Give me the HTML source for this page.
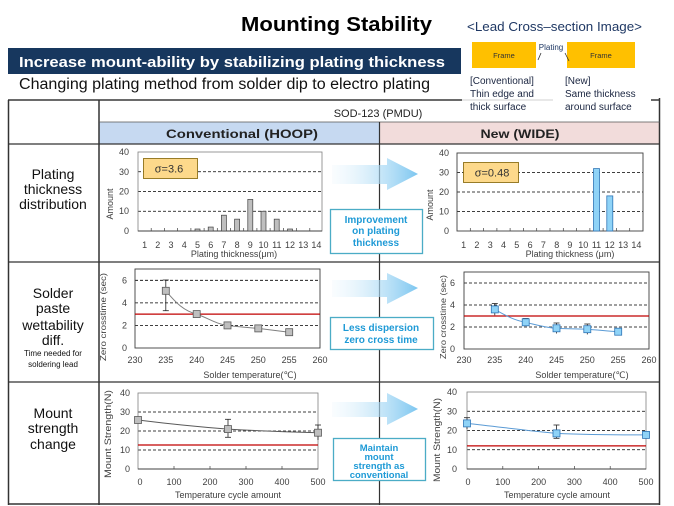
<!DOCTYPE html>
<html><head><meta charset="utf-8"><style>
html,body{margin:0;padding:0;background:#fff}
svg{display:block}
text{font-family:"Liberation Sans","DejaVu Sans",sans-serif}
</style></head><body>
<svg width="674" height="506" viewBox="0 0 674 506" xmlns="http://www.w3.org/2000/svg">
<defs>
<linearGradient id="ag" x1="332" x2="418" y1="0" y2="0" gradientUnits="userSpaceOnUse">
<stop offset="0" stop-color="#e4f3fc" stop-opacity="0.2"/>
<stop offset="1" stop-color="#7cc6f0"/>
</linearGradient>
</defs>

<!-- Title -->
<text x="241" y="31" font-size="20" font-weight="bold" fill="#000" textLength="191" lengthAdjust="spacingAndGlyphs">Mounting Stability</text>

<!-- Banner -->
<rect x="8" y="48" width="453" height="26" fill="#17375e"/>
<text x="19" y="67" font-size="15" font-weight="bold" fill="#fff" textLength="426" lengthAdjust="spacingAndGlyphs">Increase mount-ability by stabilizing  plating thickness</text>
<text x="19" y="89" font-size="15.5" fill="#111" textLength="411" lengthAdjust="spacingAndGlyphs">Changing plating method from solder dip to electro plating</text>

<!-- Lead cross-section image -->
<text x="467" y="31" font-size="13" fill="#1f3864" textLength="175" lengthAdjust="spacingAndGlyphs">&lt;Lead Cross‒section Image&gt;</text>
<rect x="472" y="42" width="64" height="26" fill="#ffc000"/>
<rect x="567" y="42" width="68" height="26" fill="#ffc000"/>
<text x="504" y="58" font-size="7.5" fill="#333" text-anchor="middle">Frame</text>
<text x="601" y="58" font-size="7.5" fill="#333" text-anchor="middle">Frame</text>
<text x="551" y="50" font-size="8" fill="#1f3864" text-anchor="middle">Plating</text>
<line x1="541" y1="53" x2="538" y2="60" stroke="#333" stroke-width="0.8"/>
<line x1="565" y1="53" x2="569" y2="61" stroke="#333" stroke-width="0.8"/>
<text x="470" y="84" font-size="10" fill="#1a2540">[Conventional]</text>
<text x="470" y="97" font-size="10" fill="#1a2540">Thin edge and</text>
<text x="470" y="110" font-size="10" fill="#1a2540">thick surface</text>
<text x="565" y="84" font-size="10" fill="#1a2540">[New]</text>
<text x="565" y="97" font-size="10" fill="#1a2540">Same thickness</text>
<text x="565" y="110" font-size="10" fill="#1a2540">around surface</text>

<!-- Table -->
<rect x="99" y="122" width="281" height="22" fill="#c6d9f1"/>
<rect x="380" y="122" width="280" height="22" fill="#f2dcdb"/>
<line x1="8" y1="100" x2="462" y2="100" stroke="#6a6a6a" stroke-width="2"/>
<line x1="462" y1="100" x2="553" y2="100" stroke="#d0d0d0" stroke-width="1"/>
<line x1="651" y1="100" x2="660" y2="100" stroke="#6a6a6a" stroke-width="2"/>
<line x1="8.5" y1="100" x2="8.5" y2="505" stroke="#333" stroke-width="1.5"/>
<line x1="659.5" y1="98" x2="659.5" y2="505" stroke="#333" stroke-width="1.5"/>
<line x1="99" y1="100" x2="99" y2="505" stroke="#333" stroke-width="1.5"/>
<line x1="99" y1="122" x2="660" y2="122" stroke="#555" stroke-width="0.8"/>
<line x1="8" y1="144" x2="660" y2="144" stroke="#333" stroke-width="1.2"/>
<line x1="379.5" y1="122" x2="379.5" y2="505" stroke="#333" stroke-width="1.2"/>
<line x1="8" y1="262" x2="660" y2="262" stroke="#333" stroke-width="1.2"/>
<line x1="8" y1="382" x2="660" y2="382" stroke="#333" stroke-width="1.2"/>
<line x1="8" y1="504" x2="660" y2="504" stroke="#333" stroke-width="1.5"/>

<text x="378" y="117" font-size="11" fill="#222" text-anchor="middle">SOD-123 (PMDU)</text>
<text x="242" y="138" font-size="12" font-weight="bold" fill="#222" text-anchor="middle" textLength="152" lengthAdjust="spacingAndGlyphs">Conventional (HOOP)</text>
<text x="520" y="138" font-size="12" font-weight="bold" fill="#222" text-anchor="middle" textLength="79" lengthAdjust="spacingAndGlyphs">New (WIDE)</text>

<!-- Row labels -->
<g font-size="14" fill="#111" text-anchor="middle">
<text x="53" y="179">Plating</text>
<text x="53" y="194">thickness</text>
<text x="53" y="209">distribution</text>
<text x="53" y="298">Solder</text>
<text x="53" y="313">paste</text>
<text x="53" y="330">wettability</text>
<text x="53" y="345">diff.</text>
<text x="53" y="418">Mount</text>
<text x="53" y="433">strength</text>
<text x="53" y="449">change</text>
</g>
<text x="53" y="356" font-size="8" fill="#111" text-anchor="middle">Time needed for</text>
<text x="53" y="367" font-size="8" fill="#111" text-anchor="middle">soldering lead</text>

<!-- Arrows -->
<path d="M332,165 H387 V158 L418,174 L387,190 V184 H332 Z" fill="url(#ag)"/>
<path d="M332,280 H387 V273 L418,288 L387,304 V297 H332 Z" fill="url(#ag)"/>
<path d="M332,402 H387 V393 L418,409 L387,425 V417 H332 Z" fill="url(#ag)"/>

<!-- Callouts -->
<rect x="330.5" y="209.5" width="92" height="44" fill="#fff" stroke="#4bacc6" stroke-width="1.3"/>
<g font-size="10" font-weight="bold" fill="#1e9ad6" text-anchor="middle">
<text x="376" y="223">Improvement</text>
<text x="376" y="234">on plating</text>
<text x="376" y="246">thickness</text>
</g>
<rect x="330.5" y="317.5" width="103" height="32" fill="#fff" stroke="#4bacc6" stroke-width="1.3"/>
<g font-size="10" font-weight="bold" fill="#1e9ad6" text-anchor="middle">
<text x="381" y="331">Less dispersion</text>
<text x="381" y="343">zero cross time</text>
</g>
<rect x="333.5" y="438.5" width="92" height="42" fill="#fff" stroke="#4bacc6" stroke-width="1.3"/>
<g font-size="9.5" font-weight="bold" fill="#1e9ad6" text-anchor="middle">
<text x="379" y="451">Maintain</text>
<text x="379" y="460">mount</text>
<text x="379" y="469">strength as</text>
<text x="379" y="478">conventional</text>
</g>

<!-- ===== Chart 1 left histogram ===== -->
<g stroke="#000" stroke-width="0.8" stroke-dasharray="3,2">
<line x1="138" y1="171.75" x2="322" y2="171.75"/>
<line x1="138" y1="191.5" x2="322" y2="191.5"/>
<line x1="138" y1="211.25" x2="322" y2="211.25"/>
</g>
<rect x="138" y="152" width="184" height="79" fill="none" stroke="#7f7f7f" stroke-width="0.8"/>
<g stroke="#404040" stroke-width="0.7">
<line x1="151.2" y1="231" x2="151.2" y2="228"/><line x1="164.4" y1="231" x2="164.4" y2="228"/>
<line x1="177.6" y1="231" x2="177.6" y2="228"/><line x1="190.9" y1="231" x2="190.9" y2="228"/>
<line x1="204.1" y1="231" x2="204.1" y2="228"/><line x1="217.3" y1="231" x2="217.3" y2="228"/>
<line x1="230.5" y1="231" x2="230.5" y2="228"/><line x1="243.7" y1="231" x2="243.7" y2="228"/>
<line x1="256.9" y1="231" x2="256.9" y2="228"/><line x1="270.1" y1="231" x2="270.1" y2="228"/>
<line x1="283.4" y1="231" x2="283.4" y2="228"/><line x1="296.6" y1="231" x2="296.6" y2="228"/>
<line x1="309.8" y1="231" x2="309.8" y2="228"/>
</g>
<line x1="138" y1="231" x2="322" y2="231" stroke="#404040" stroke-width="0.9"/>
<g fill="#bfbfbf" stroke="#404040" stroke-width="0.7">
<rect x="195" y="229" width="5" height="2"/>
<rect x="208.2" y="227.05" width="5" height="3.95"/>
<rect x="221.4" y="215.2" width="5" height="15.8"/>
<rect x="234.6" y="219.15" width="5" height="11.85"/>
<rect x="247.8" y="199.4" width="5" height="31.6"/>
<rect x="261" y="211.25" width="5" height="19.75"/>
<rect x="274.2" y="219.15" width="5" height="11.85"/>
<rect x="287.5" y="229" width="5" height="2"/>
</g>
<g font-size="9" fill="#404040" text-anchor="end">
<text x="129" y="155">40</text><text x="129" y="175">30</text><text x="129" y="194.5">20</text><text x="129" y="214">10</text><text x="129" y="234">0</text>
</g>
<g font-size="9" fill="#404040" text-anchor="middle">
<text x="144.6" y="248">1</text><text x="157.8" y="248">2</text><text x="171" y="248">3</text><text x="184.2" y="248">4</text>
<text x="197.5" y="248">5</text><text x="210.7" y="248">6</text><text x="223.9" y="248">7</text><text x="237.1" y="248">8</text>
<text x="250.3" y="248">9</text><text x="263.5" y="248">10</text><text x="276.8" y="248">11</text><text x="290" y="248">12</text>
<text x="303.2" y="248">13</text><text x="316.4" y="248">14</text>
<text x="234" y="257">Plating  thickness(μm)</text>
</g>
<text transform="translate(113,204) rotate(-90)" font-size="9" fill="#404040" text-anchor="middle">Amount</text>
<rect x="143.5" y="158.5" width="54" height="20" fill="#fdd98b" stroke="#7f6000" stroke-width="0.8"/>
<text x="169" y="172.5" font-size="11" fill="#333" text-anchor="middle">σ=3.6</text>

<!-- ===== Chart 1 right histogram ===== -->
<g stroke="#000" stroke-width="0.8" stroke-dasharray="3,2">
<line x1="457" y1="172.5" x2="643" y2="172.5"/>
<line x1="457" y1="192" x2="643" y2="192"/>
<line x1="457" y1="211.5" x2="643" y2="211.5"/>
</g>
<rect x="457" y="153" width="186" height="78" fill="none" stroke="#404040" stroke-width="0.9"/>
<g stroke="#404040" stroke-width="0.7">
<line x1="470.3" y1="231" x2="470.3" y2="228"/><line x1="483.6" y1="231" x2="483.6" y2="228"/>
<line x1="496.9" y1="231" x2="496.9" y2="228"/><line x1="510.1" y1="231" x2="510.1" y2="228"/>
<line x1="523.4" y1="231" x2="523.4" y2="228"/><line x1="536.7" y1="231" x2="536.7" y2="228"/>
<line x1="550" y1="231" x2="550" y2="228"/><line x1="563.3" y1="231" x2="563.3" y2="228"/>
<line x1="576.6" y1="231" x2="576.6" y2="228"/><line x1="589.9" y1="231" x2="589.9" y2="228"/>
<line x1="603.1" y1="231" x2="603.1" y2="228"/><line x1="616.4" y1="231" x2="616.4" y2="228"/>
<line x1="629.7" y1="231" x2="629.7" y2="228"/>
</g>
<g fill="#8fd3f7" stroke="#2e75b6" stroke-width="0.8">
<rect x="593.5" y="168.6" width="6" height="62.4"/>
<rect x="606.8" y="195.9" width="6" height="35.1"/>
</g>
<g font-size="9" fill="#404040" text-anchor="end">
<text x="449" y="156">40</text><text x="449" y="175.5">30</text><text x="449" y="195">20</text><text x="449" y="214.5">10</text><text x="449" y="234">0</text>
</g>
<g font-size="9" fill="#404040" text-anchor="middle">
<text x="463.6" y="248">1</text><text x="476.9" y="248">2</text><text x="490.2" y="248">3</text><text x="503.5" y="248">4</text>
<text x="516.8" y="248">5</text><text x="530.1" y="248">6</text><text x="543.4" y="248">7</text><text x="556.7" y="248">8</text>
<text x="569.9" y="248">9</text><text x="583.2" y="248">10</text><text x="596.5" y="248">11</text><text x="609.8" y="248">12</text>
<text x="623.1" y="248">13</text><text x="636.4" y="248">14</text>
<text x="570" y="257">Plating thickness (μm)</text>
</g>
<text transform="translate(433,205) rotate(-90)" font-size="9" fill="#404040" text-anchor="middle">Amount</text>
<rect x="463.5" y="162.5" width="55" height="20" fill="#fdd98b" stroke="#7f6000" stroke-width="0.8"/>
<text x="492" y="176.5" font-size="11" fill="#333" text-anchor="middle">σ=0.48</text>

<!-- ===== Chart 2 left (solder) ===== -->
<g stroke="#000" stroke-width="0.8" stroke-dasharray="3,2">
<line x1="135" y1="280.3" x2="320" y2="280.3"/>
<line x1="135" y1="302.9" x2="320" y2="302.9"/>
<line x1="135" y1="325.4" x2="320" y2="325.4"/>
</g>
<rect x="135" y="269" width="185" height="79" fill="none" stroke="#404040" stroke-width="0.9"/>
<line x1="135" y1="314.1" x2="320" y2="314.1" stroke="#c00000" stroke-width="1.3"/>
<path d="M165.8,290.8 C176,303 184,311 196.7,314.1 C208,318 216,324 227.5,325.4 C238,327 248,327.5 258.3,328.4 C268,329.5 279,331 289.2,332.2" fill="none" stroke="#7f7f7f" stroke-width="1"/>
<g stroke="#222" stroke-width="0.8">
<line x1="165.8" y1="280" x2="165.8" y2="310.7"/><line x1="162.8" y1="280" x2="168.8" y2="280"/><line x1="162.8" y1="310.7" x2="168.8" y2="310.7"/>
</g>
<g fill="#bfbfbf" stroke="#595959" stroke-width="0.8">
<rect x="162.3" y="287.3" width="7" height="7"/>
<rect x="193.2" y="310.6" width="7" height="7"/>
<rect x="224" y="321.9" width="7" height="7"/>
<rect x="254.8" y="324.9" width="7" height="7"/>
<rect x="285.7" y="328.7" width="7" height="7"/>
</g>
<g font-size="9" fill="#404040" text-anchor="end">
<text x="127" y="283.3">6</text><text x="127" y="305.9">4</text><text x="127" y="328.4">2</text><text x="127" y="351">0</text>
</g>
<g font-size="9" fill="#404040" text-anchor="middle">
<text x="135" y="363">230</text><text x="165.8" y="363">235</text><text x="196.7" y="363">240</text><text x="227.5" y="363">245</text>
<text x="258.3" y="363">250</text><text x="289.2" y="363">255</text><text x="320" y="363">260</text>
<text x="250" y="378">Solder temperature(℃)</text>
</g>
<text transform="translate(106,317) rotate(-90)" font-size="8.5" fill="#404040" text-anchor="middle" textLength="88" lengthAdjust="spacingAndGlyphs">Zero crosstime (sec)</text>

<!-- ===== Chart 2 right (solder) ===== -->
<g stroke="#000" stroke-width="0.8" stroke-dasharray="3,2">
<line x1="464" y1="283" x2="649" y2="283"/>
<line x1="464" y1="305" x2="649" y2="305"/>
<line x1="464" y1="327" x2="649" y2="327"/>
</g>
<rect x="464" y="272" width="185" height="77" fill="none" stroke="#404040" stroke-width="0.9"/>
<line x1="464" y1="316" x2="649" y2="316" stroke="#c00000" stroke-width="1.3"/>
<path d="M494.8,309.4 C505,315 513,320 525.7,322.3 C537,325 545,327.5 556.5,328.3 C567,329 577,328.8 587.3,329.2 C598,330 608,331 618.2,331.7" fill="none" stroke="#5b9bd5" stroke-width="1"/>
<g stroke="#222" stroke-width="0.8">
<line x1="494.8" y1="303.5" x2="494.8" y2="315.3"/><line x1="491.8" y1="303.5" x2="497.8" y2="303.5"/>
<line x1="525.7" y1="318.5" x2="525.7" y2="326"/><line x1="522.7" y1="318.5" x2="528.7" y2="318.5"/>
<line x1="556.5" y1="323" x2="556.5" y2="333.5"/><line x1="553.5" y1="323" x2="559.5" y2="323"/>
<line x1="587.3" y1="324" x2="587.3" y2="334.4"/><line x1="584.3" y1="324" x2="590.3" y2="324"/>
</g>
<g fill="#8fd3f7" stroke="#2e75b6" stroke-width="0.8">
<rect x="491.3" y="305.9" width="7" height="7"/>
<rect x="522.2" y="318.8" width="7" height="7"/>
<rect x="553" y="324.8" width="7" height="7"/>
<rect x="583.8" y="325.7" width="7" height="7"/>
<rect x="614.7" y="328.2" width="7" height="7"/>
</g>
<g font-size="9" fill="#404040" text-anchor="end">
<text x="455" y="286">6</text><text x="455" y="308">4</text><text x="455" y="330">2</text><text x="455" y="352">0</text>
</g>
<g font-size="9" fill="#404040" text-anchor="middle">
<text x="464" y="363">230</text><text x="494.8" y="363">235</text><text x="525.7" y="363">240</text><text x="556.5" y="363">245</text>
<text x="587.3" y="363">250</text><text x="618.2" y="363">255</text><text x="649" y="363">260</text>
<text x="582" y="378">Solder temperature(℃)</text>
</g>
<text transform="translate(446,317) rotate(-90)" font-size="8.5" fill="#404040" text-anchor="middle" textLength="84" lengthAdjust="spacingAndGlyphs">Zero crosstime (sec)</text>

<!-- ===== Chart 3 left (mount strength) ===== -->
<g stroke="#000" stroke-width="0.8" stroke-dasharray="3,2">
<line x1="138" y1="412" x2="318" y2="412"/>
<line x1="138" y1="431" x2="318" y2="431"/>
<line x1="138" y1="450" x2="318" y2="450"/>
</g>
<rect x="138" y="393" width="180" height="76" fill="none" stroke="#7f7f7f" stroke-width="0.8"/>
<line x1="138" y1="469" x2="318" y2="469" stroke="#404040" stroke-width="0.9"/>
<g stroke="#404040" stroke-width="0.7">
<line x1="174" y1="469" x2="174" y2="466"/><line x1="210" y1="469" x2="210" y2="466"/>
<line x1="246" y1="469" x2="246" y2="466"/><line x1="282" y1="469" x2="282" y2="466"/>
</g>
<line x1="138" y1="445" x2="318" y2="445" stroke="#c00000" stroke-width="1.3"/>
<path d="M138,420 C170,424 200,427 228,429.1 C260,431 290,432 318,432.7" fill="none" stroke="#595959" stroke-width="1"/>
<g stroke="#222" stroke-width="0.8">
<line x1="228" y1="419.3" x2="228" y2="437.3"/><line x1="225" y1="419.3" x2="231" y2="419.3"/><line x1="225" y1="437.3" x2="231" y2="437.3"/>
<line x1="318" y1="425" x2="318" y2="440"/><line x1="315" y1="425" x2="321" y2="425"/>
</g>
<g fill="#bfbfbf" stroke="#595959" stroke-width="0.8">
<rect x="134.5" y="416.5" width="7" height="7"/>
<rect x="224.5" y="425.6" width="7" height="7"/>
<rect x="314.5" y="429.2" width="7" height="7"/>
</g>
<g font-size="9" fill="#404040" text-anchor="end">
<text x="130" y="396">40</text><text x="130" y="415">30</text><text x="130" y="434">20</text><text x="130" y="453">10</text><text x="130" y="472">0</text>
</g>
<g font-size="9" fill="#404040" text-anchor="middle">
<text x="140" y="485">0</text><text x="174" y="485">100</text><text x="210" y="485">200</text><text x="246" y="485">300</text>
<text x="282" y="485">400</text><text x="318" y="485">500</text>
<text x="228" y="498">Temperature cycle amount</text>
</g>
<text transform="translate(111,434) rotate(-90)" font-size="9" fill="#404040" text-anchor="middle" textLength="88" lengthAdjust="spacingAndGlyphs">Mount Strength(N)</text>

<!-- ===== Chart 3 right (mount strength) ===== -->
<g stroke="#000" stroke-width="0.8" stroke-dasharray="3,2">
<line x1="467" y1="411.25" x2="646" y2="411.25"/>
<line x1="467" y1="430.5" x2="646" y2="430.5"/>
<line x1="467" y1="449.75" x2="646" y2="449.75"/>
</g>
<rect x="467" y="392" width="179" height="77" fill="none" stroke="#7f7f7f" stroke-width="0.8"/>
<line x1="467" y1="469" x2="646" y2="469" stroke="#404040" stroke-width="0.9"/>
<g stroke="#404040" stroke-width="0.7">
<line x1="502.8" y1="469" x2="502.8" y2="466"/><line x1="538.6" y1="469" x2="538.6" y2="466"/>
<line x1="574.4" y1="469" x2="574.4" y2="466"/><line x1="610.2" y1="469" x2="610.2" y2="466"/>
</g>
<line x1="467" y1="445.9" x2="646" y2="445.9" stroke="#c00000" stroke-width="1.3"/>
<path d="M467,423.4 C500,427 530,431 556.5,433.4 C590,435 620,435 646,434.9" fill="none" stroke="#5b9bd5" stroke-width="1"/>
<g stroke="#222" stroke-width="0.8">
<line x1="467" y1="417.7" x2="467" y2="429"/><line x1="464" y1="417.7" x2="470" y2="417.7"/>
<line x1="556.5" y1="425" x2="556.5" y2="438.3"/><line x1="553.5" y1="425" x2="559.5" y2="425"/><line x1="553.5" y1="438.3" x2="559.5" y2="438.3"/>
</g>
<g fill="#8fd3f7" stroke="#2e75b6" stroke-width="0.8">
<rect x="463.5" y="419.9" width="7" height="7"/>
<rect x="553" y="429.9" width="7" height="7"/>
<rect x="642.5" y="431.4" width="7" height="7"/>
</g>
<g font-size="9" fill="#404040" text-anchor="end">
<text x="457" y="395">40</text><text x="457" y="414.25">30</text><text x="457" y="433.5">20</text><text x="457" y="452.75">10</text><text x="457" y="472">0</text>
</g>
<g font-size="9" fill="#404040" text-anchor="middle">
<text x="468" y="485">0</text><text x="502.8" y="485">100</text><text x="538.6" y="485">200</text><text x="574.4" y="485">300</text>
<text x="610.2" y="485">400</text><text x="646" y="485">500</text>
<text x="557" y="498">Temperature cycle amount</text>
</g>
<text transform="translate(440,440) rotate(-90)" font-size="9" fill="#404040" text-anchor="middle" textLength="84" lengthAdjust="spacingAndGlyphs">Mount Strength(N)</text>

</svg>
</body></html>
